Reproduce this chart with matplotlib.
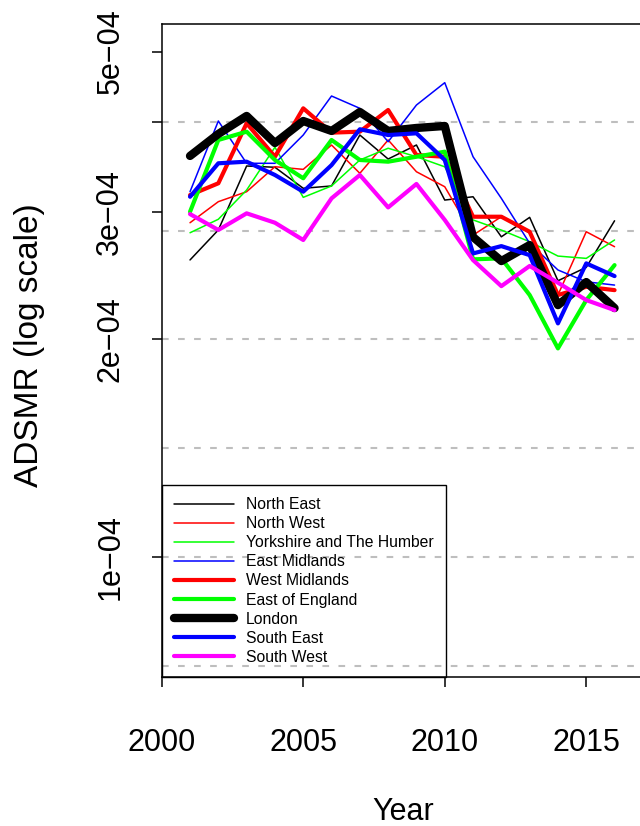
import matplotlib
matplotlib.use("Agg")
import matplotlib.pyplot as plt
from matplotlib.ticker import NullLocator

plt.rcParams["font.family"] = ["Liberation Sans", "DejaVu Sans"]

years = list(range(2001, 2017))

# ADSMR values, units of 1e-4
north_east = [2.576, 2.834, 3.474, 3.460, 3.236, 3.260, 3.834, 3.552, 3.714, 3.117, 3.150, 2.773, 2.950, 2.411, 2.516, 2.918]
north_west = [2.900, 3.101, 3.201, 3.466, 3.437, 3.714, 3.394, 3.774, 3.411, 3.252, 2.788, 2.956, 2.806, 2.304, 2.818, 2.687]
yorkshire = [2.809, 2.932, 3.218, 3.688, 3.144, 3.260, 3.541, 3.676, 3.578, 3.465, 2.926, 2.833, 2.730, 2.608, 2.589, 2.745]
east_midlands = [3.201, 4.009, 3.504, 3.504, 3.834, 4.341, 4.174, 3.753, 4.218, 4.529, 3.578, 3.134, 2.716, 2.495, 2.403, 2.378]
west_midlands = [3.167, 3.288, 3.980, 3.578, 4.174, 3.863, 3.875, 4.152, 3.597, 3.578, 2.956, 2.956, 2.818, 2.304, 2.365, 2.340]
east_england = [3.003, 3.774, 3.875, 3.541, 3.341, 3.774, 3.541, 3.522, 3.578, 3.636, 2.581, 2.589, 2.304, 1.944, 2.267, 2.534]
london = [3.587, 3.847, 4.074, 3.737, 4.009, 3.884, 4.126, 3.884, 3.921, 3.946, 2.771, 2.567, 2.701, 2.231, 2.401, 2.210]
south_east = [3.150, 3.504, 3.522, 3.376, 3.201, 3.484, 3.905, 3.834, 3.855, 3.541, 2.630, 2.692, 2.616, 2.105, 2.548, 2.447]
south_west = [2.981, 2.834, 2.988, 2.900, 2.745, 3.134, 3.376, 3.045, 3.281, 2.926, 2.575, 2.370, 2.527, 2.396, 2.267, 2.196]

names = ["North East", "North West", "Yorkshire and The Humber", "East Midlands",
         "West Midlands", "East of England", "London", "South East", "South West"]
series = [north_east, north_west, yorkshire, east_midlands,
          west_midlands, east_england, london, south_east, south_west]
colors = ["black", "red", "#00FF00", "blue", "red", "#00FF00", "black", "blue", "magenta"]
widths = [1.1, 1.1, 1.1, 1.1, 3, 3, 6, 3, 3]

grid_levels = [0.7071e-4, 1e-4, 1.4142e-4, 2e-4, 2.8284e-4, 4e-4]
ytick_vals = [1e-4, 2e-4, 3e-4, 4e-4, 5e-4]
ytick_labels = ["1e\u221204", "2e\u221204", "3e\u221204", "", "5e\u221204"]
xtick_vals = [2000, 2005, 2010, 2015]

fig = plt.figure(figsize=(6.4, 8.26), dpi=100)
ax = fig.add_axes([0.2527, 0.1804, 0.7531, 0.7906])

for g in grid_levels:
    ax.axhline(g, color="#BEBEBE", lw=1.5, linestyle=(0, (3.2, 4.5)), zorder=1)

for name, vals, c, w in zip(names, series, colors, widths):
    ax.plot(years, [v * 1e-4 for v in vals], color=c, lw=w, label=name,
            solid_joinstyle="round", solid_capstyle="round", zorder=2)

ax.set_yscale("log")
ax.set_ylim(6.83e-5, 5.46e-4)
ax.set_xlim(2000, 2017.03)
ax.yaxis.set_minor_locator(NullLocator())
ax.set_yticks(ytick_vals)
ax.set_yticklabels(ytick_labels, rotation=90, va="center")
ax.set_xticks(xtick_vals)
ax.set_xticklabels([str(x) for x in xtick_vals])

for s in ax.spines.values():
    s.set_linewidth(1.1)
ax.tick_params(axis="both", length=7.2, width=1.1, labelsize=22)
ax.tick_params(axis="y", pad=19)
ax.tick_params(axis="x", pad=29.5)

fig.text(30 / 640, 1 - 345 / 826, "ADSMR (log scale)", rotation=90,
         ha="center", va="center", fontsize=24)
fig.text(403 / 640, 1 - 812 / 826, "Year", ha="center", va="center", fontsize=22)

leg = ax.legend(loc="lower left", bbox_to_anchor=(0, 0), borderaxespad=0,
                fontsize=11.3, handlelength=3.8, handletextpad=0.8,
                labelspacing=0.26, borderpad=0.78, fancybox=False,
                edgecolor="black")
leg.get_frame().set_linewidth(1.0)
leg.get_frame().set_facecolor("none")
leg.get_frame().set_alpha(None)

fig.savefig("out.png", dpi=100)
